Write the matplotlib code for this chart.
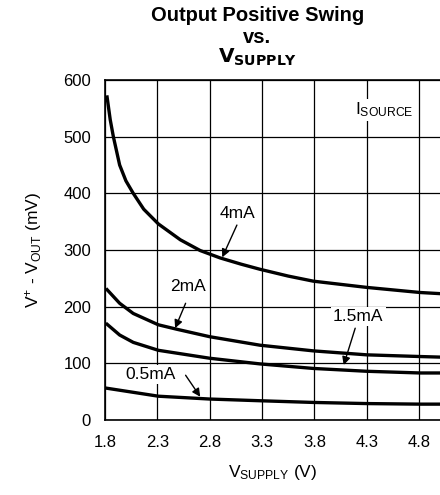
import matplotlib.pyplot as plt
import numpy as np

plt.rcParams['font.family'] = ['Liberation Sans', 'DejaVu Sans']
plt.rcParams['mathtext.default'] = 'regular'

# supply voltage (V) and swing (mV)
v4mA = [1.82, 1.85, 1.88, 1.94, 2.0, 2.07, 2.17, 2.31, 2.52, 2.71, 2.9, 3.1, 3.28, 3.55, 3.79, 4.30, 4.81, 5.0]
swing4mA = [570, 530, 500, 450, 422, 400, 372, 346, 318, 299, 286, 275, 266, 254, 245, 234, 225, 223]

v2mA = [1.82, 1.94, 2.07, 2.31, 2.49, 2.80, 3.28, 3.79, 4.30, 4.81, 5.0]
swing2mA = [230, 206, 188, 168, 160, 147, 132, 122, 115, 112, 111]

v1p5mA = [1.82, 1.94, 2.07, 2.31, 2.80, 3.28, 3.79, 4.30, 4.81, 5.0]
swing1p5mA = [169, 150, 137, 123, 109, 99, 91, 86, 83, 83]

v0p5mA = [1.82, 2.31, 2.80, 3.28, 3.79, 4.30, 4.81, 5.0]
swing0p5mA = [56, 42, 37, 34, 31, 29, 28, 28]

xTicks = [1.8, 2.3, 2.8, 3.3, 3.8, 4.3, 4.8]
yTicks = [0, 100, 200, 300, 400, 500, 600]

fig = plt.figure(figsize=(4.4, 4.95), dpi=100)
ax = fig.add_axes([0.2386, 0.1515, 0.7614, 0.6869])

for v, s in ((v4mA, swing4mA), (v2mA, swing2mA), (v1p5mA, swing1p5mA), (v0p5mA, swing0p5mA)):
    ax.plot(v, s, color='black', linewidth=2.4, solid_joinstyle='round')

ax.set_xlim(1.8, 5.0)
ax.set_ylim(0, 600)
ax.set_xticks(xTicks)
ax.set_yticks(yTicks)
ax.set_xticklabels([str(t) for t in xTicks])
ax.tick_params(length=0, labelsize=12)
ax.tick_params(axis='x', pad=11)
ax.tick_params(axis='y', pad=10)
ax.grid(True, color='black', linewidth=0.9)
ax.set_axisbelow(True)
for side in ('left', 'bottom', 'top'):
    ax.spines[side].set_linewidth(1.2)
ax.spines['right'].set_visible(False)

ax.set_xlabel(r'V$_{SUPPLY}$ (V)', fontsize=12.5, labelpad=9)
ax.set_ylabel(r'V$^{+}$ - V$_{OUT}$ (mV)', fontsize=12.5, labelpad=14)

box = dict(facecolor='white', edgecolor='none', pad=1.5)
arrow = dict(arrowstyle='-|>', color='black', linewidth=1.0, mutation_scale=12,
             shrinkA=0, shrinkB=0)

ax.text(4.47, 547, r'I$_{SOURCE}$', fontsize=12.5, ha='center', va='center', bbox=box)
ax.annotate('', xy=(2.92, 287), xytext=(3.06, 344), arrowprops=arrow)
ax.text(3.07, 365, '4mA', fontsize=12.5, ha='center', va='center', bbox=box)
ax.annotate('', xy=(2.47, 162), xytext=(2.57, 206), arrowprops=arrow)
ax.text(2.59, 236, '2mA', fontsize=12.5, ha='center', va='center', bbox=box)
ax.annotate('', xy=(4.08, 97), xytext=(4.19, 162), arrowprops=arrow)
ax.text(4.22, 182, '1.5mA', fontsize=12.5, ha='center', va='center', bbox=box)
ax.annotate('', xy=(2.71, 41), xytext=(2.57, 79), arrowprops=arrow)
ax.text(2.24, 81, '0.5mA', fontsize=12.5, ha='center', va='center', bbox=box)

fig.text(0.585, 0.969, 'Output Positive Swing', fontsize=14.5, fontweight='bold', ha='center', va='center')
fig.text(0.585, 0.925, 'vs.', fontsize=14.5, fontweight='bold', ha='center', va='center')
fig.text(0.585, 0.884, r'$\mathbf{V_{SUPPLY}}$', fontsize=14.5, ha='center', va='center')

fig.savefig('out.png', dpi=100)
